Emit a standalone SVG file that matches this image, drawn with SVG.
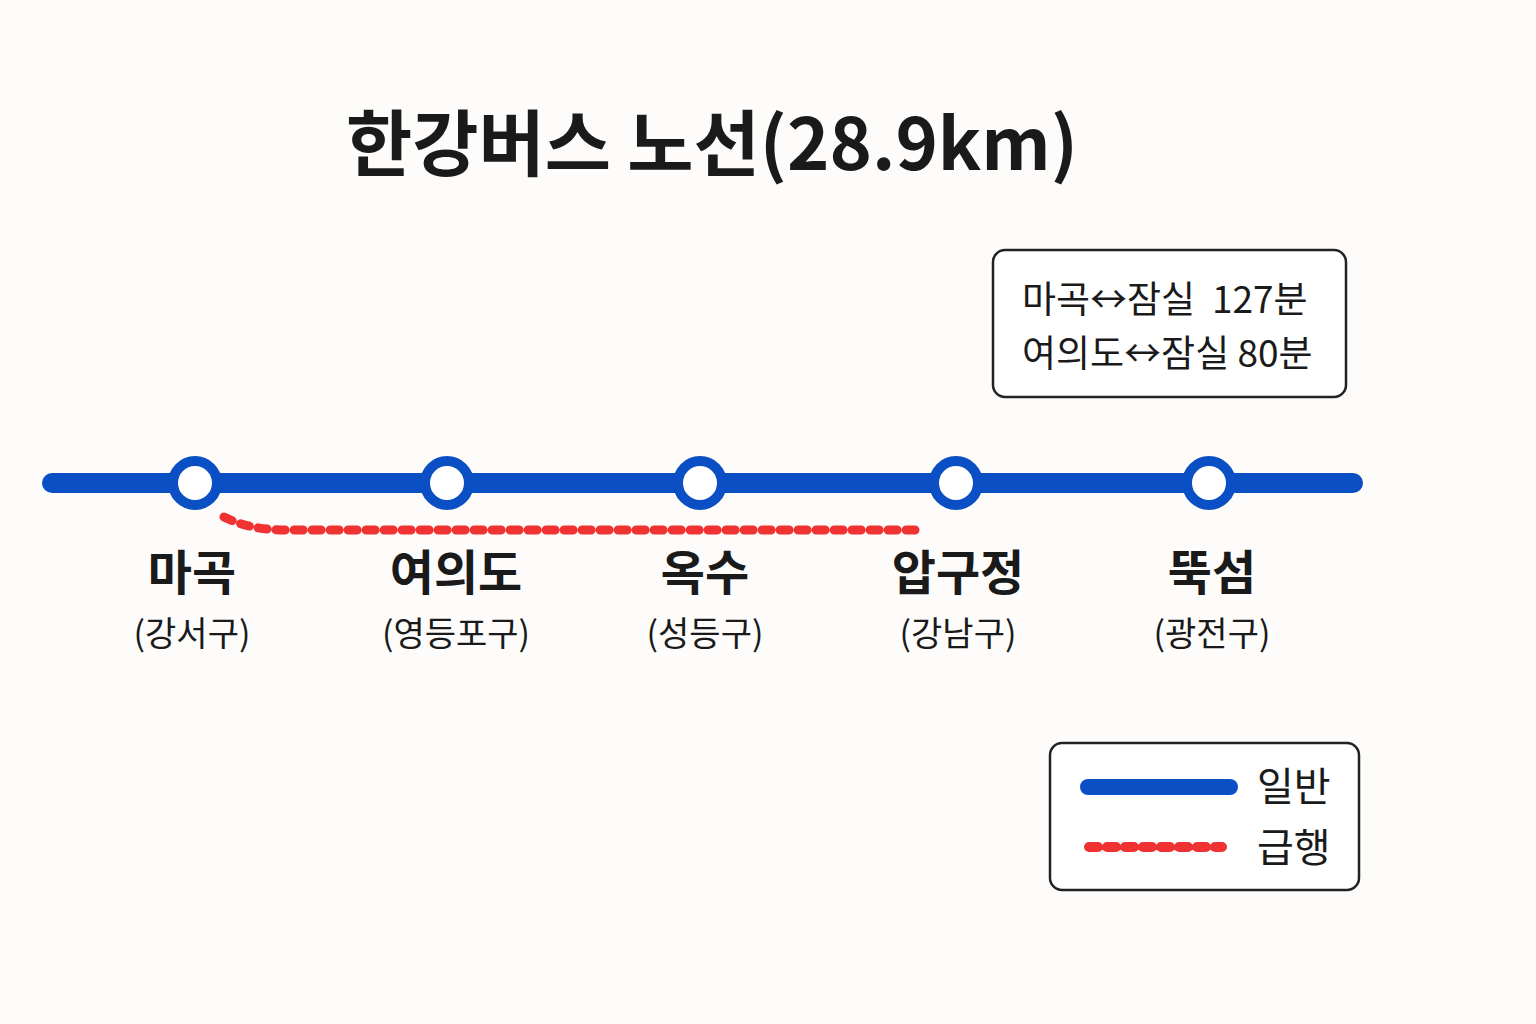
<svg xmlns="http://www.w3.org/2000/svg" width="1536" height="1024" viewBox="0 0 1536 1024">
<style>
text{font-family:"Noto Sans CJK KR","Noto Sans",sans-serif;fill:#1a1a1a}
.nm{font-size:48px;font-weight:bold;text-anchor:middle}
.sb{font-size:34px;text-anchor:middle}
.box{fill:#fff;stroke:#222;stroke-width:2.5}
.blue{stroke:#0a4fc4;stroke-linecap:round;fill:none}
.red{stroke:#f03232;stroke-linecap:round;fill:none;stroke-dasharray:9 9}
.st{fill:#fff;stroke:#0a4fc4;stroke-width:10}
</style>
<rect width="1536" height="1024" fill="#fdfcfa"/>
<text x="712" y="170" font-size="72" font-weight="bold" text-anchor="middle">한강버스 노선(28.9km)</text>
<g id="connectors">
<line class="blue" x1="52" y1="483" x2="1353" y2="483" stroke-width="20"/>
<path class="red" d="M224 517 Q250 530 285 530 L915 530" stroke-width="9"/>
</g>
<g id="magok"><circle class="st" cx="195" cy="483" r="22"/><text class="nm" x="192" y="590">마곡</text><text class="sb" x="192" y="646">(강서구)</text></g>
<g id="yeouido"><circle class="st" cx="447" cy="483" r="22"/><text class="nm" x="456" y="590">여의도</text><text class="sb" x="456" y="646">(영등포구)</text></g>
<g id="oksu"><circle class="st" cx="700" cy="483" r="22"/><text class="nm" x="705" y="590">옥수</text><text class="sb" x="705" y="646">(성등구)</text></g>
<g id="apgujeong"><circle class="st" cx="956" cy="483" r="22"/><text class="nm" x="958" y="590">압구정</text><text class="sb" x="958" y="646">(강남구)</text></g>
<g id="ttukseom"><circle class="st" cx="1209" cy="483" r="22"/><text class="nm" x="1212" y="590">뚝섬</text><text class="sb" x="1212" y="646">(광전구)</text></g>
<g id="info"><rect class="box" x="993" y="250" width="353" height="147" rx="12"/>
<text x="1022" y="313" font-size="37">마곡↔잠실 <tspan x="1212">127분</tspan></text>
<text x="1022" y="367" font-size="37">여의도↔잠실 80분</text></g>
<g id="legend"><rect class="box" x="1050" y="743" width="309" height="147" rx="12"/>
<line class="blue" x1="1088" y1="787" x2="1230" y2="787" stroke-width="16"/>
<line class="red" x1="1089" y1="847" x2="1222" y2="847" stroke-width="10" stroke-dasharray="9 10"/>
<text x="1257" y="801" font-size="40">일반</text>
<text x="1257" y="862" font-size="40">급행</text></g>
</svg>
